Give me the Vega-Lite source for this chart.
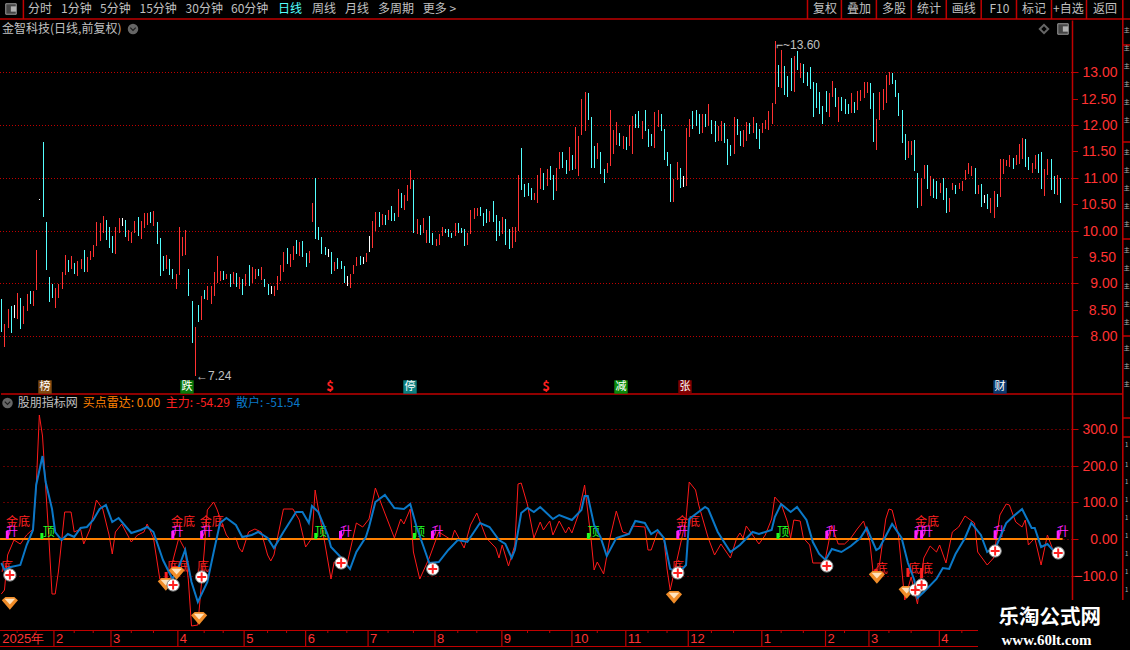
{
"$schema":"https://vega.github.io/schema/vega-lite/v6.json",
"background":"#000000","padding":{"left":-4,"top":-1,"right":0,"bottom":0},"autosize":{"type":"pad"},"bounds":"flush","spacing":0,
"resolve":{"scale":{"color":"independent","fill":"independent","stroke":"independent"}},
"config":{"view":{"stroke":null},"text":{"font":"Noto Sans CJK SC"}},
"datasets":{
"bars":[
{"i":0,"l":8.07,"h":8.7,"k":"c"},{"i":1,"l":7.8,"h":8.22,"k":"r"},{"i":2,"l":8.15,"h":8.51,"k":"r"},{"i":3,"l":8.05,"h":8.56,"k":"c"},{"i":4,"l":8.35,"h":8.58,"k":"w"},{"i":5,"l":8.32,"h":8.81,"k":"r"},{"i":6,"l":8.13,"h":8.73,"k":"c"},{"i":7,"l":8.22,"h":8.56,"k":"r"},{"i":8,"l":8.47,"h":8.79,"k":"r"},{"i":9,"l":8.6,"h":8.85,"k":"c"},
{"i":10,"l":8.56,"h":8.85,"k":"r"},{"i":11,"l":8.87,"h":9.63,"k":"r"},{"i":12,"l":10.58,"h":10.59,"k":"w"},{"i":13,"l":10.25,"h":11.68,"k":"c"},{"i":14,"l":9.25,"h":10.16,"k":"c"},{"i":15,"l":8.64,"h":9.11,"k":"c"},{"i":16,"l":8.72,"h":8.98,"k":"c"},{"i":17,"l":8.54,"h":8.91,"k":"r"},{"i":18,"l":8.73,"h":8.98,"k":"r"},{"i":19,"l":8.89,"h":9.21,"k":"r"},
{"i":20,"l":9.15,"h":9.53,"k":"r"},{"i":21,"l":9.21,"h":9.44,"k":"c"},{"i":22,"l":9.28,"h":9.51,"k":"r"},{"i":23,"l":9.17,"h":9.38,"k":"c"},{"i":24,"l":9.13,"h":9.42,"k":"r"},{"i":25,"l":9.27,"h":9.46,"k":"r"},{"i":26,"l":9.21,"h":9.63,"k":"c"},{"i":27,"l":9.21,"h":9.49,"k":"r"},{"i":28,"l":9.44,"h":9.61,"k":"r"},{"i":29,"l":9.49,"h":9.72,"k":"r"},
{"i":30,"l":9.7,"h":10.16,"k":"r"},{"i":31,"l":9.8,"h":10.14,"k":"r"},{"i":32,"l":9.95,"h":10.27,"k":"r"},{"i":33,"l":9.82,"h":10.2,"k":"c"},{"i":34,"l":9.66,"h":10.06,"k":"c"},{"i":35,"l":9.57,"h":9.89,"k":"c"},{"i":36,"l":9.55,"h":10.06,"k":"r"},{"i":37,"l":9.95,"h":10.23,"k":"r"},{"i":38,"l":10.08,"h":10.23,"k":"w"},{"i":39,"l":9.87,"h":10.2,"k":"c"},
{"i":40,"l":9.8,"h":10.01,"k":"r"},{"i":41,"l":9.76,"h":9.97,"k":"r"},{"i":42,"l":9.95,"h":10.18,"k":"r"},{"i":43,"l":9.89,"h":10.25,"k":"c"},{"i":44,"l":9.84,"h":10.18,"k":"r"},{"i":45,"l":10.04,"h":10.33,"k":"r"},{"i":46,"l":10.1,"h":10.33,"k":"r"},{"i":47,"l":10.14,"h":10.35,"k":"c"},{"i":48,"l":10.08,"h":10.37,"k":"r"},{"i":49,"l":9.74,"h":10.16,"k":"c"},
{"i":50,"l":9.13,"h":9.85,"k":"c"},{"i":51,"l":9.23,"h":9.51,"k":"c"},{"i":52,"l":9.27,"h":9.53,"k":"r"},{"i":53,"l":9.15,"h":9.46,"k":"c"},{"i":54,"l":9.09,"h":9.28,"k":"c"},{"i":55,"l":8.89,"h":9.17,"k":"r"},{"i":56,"l":9.15,"h":10.06,"k":"r"},{"i":57,"l":9.51,"h":9.87,"k":"r"},{"i":58,"l":9.53,"h":10.01,"k":"r"},{"i":59,"l":8.75,"h":9.27,"k":"c"},
{"i":60,"l":7.86,"h":8.66,"k":"c"},{"i":61,"l":7.25,"h":8.18,"k":"r"},{"i":62,"l":8.26,"h":8.58,"k":"c"},{"i":63,"l":8.3,"h":8.75,"k":"r"},{"i":64,"l":8.7,"h":8.87,"k":"c"},{"i":65,"l":8.68,"h":8.94,"k":"r"},{"i":66,"l":8.6,"h":8.94,"k":"r"},{"i":67,"l":8.75,"h":9.21,"k":"r"},{"i":68,"l":9,"h":9.51,"k":"r"},{"i":69,"l":9.04,"h":9.23,"k":"r"},
{"i":70,"l":9.06,"h":9.23,"k":"c"},{"i":71,"l":9.08,"h":9.17,"k":"r"},{"i":72,"l":8.92,"h":9.17,"k":"c"},{"i":73,"l":8.98,"h":9.21,"k":"r"},{"i":74,"l":8.92,"h":9.19,"k":"c"},{"i":75,"l":8.89,"h":9.11,"k":"r"},{"i":76,"l":8.77,"h":9.08,"k":"c"},{"i":77,"l":8.94,"h":9.17,"k":"r"},{"i":78,"l":8.94,"h":9.34,"k":"c"},{"i":79,"l":9,"h":9.3,"k":"r"},
{"i":80,"l":9.09,"h":9.27,"k":"r"},{"i":81,"l":9.13,"h":9.28,"k":"c"},{"i":82,"l":9.06,"h":9.3,"k":"r"},{"i":83,"l":8.92,"h":9.09,"k":"c"},{"i":84,"l":8.77,"h":8.98,"k":"c"},{"i":85,"l":8.79,"h":8.94,"k":"w"},{"i":86,"l":8.75,"h":8.94,"k":"r"},{"i":87,"l":8.87,"h":9.13,"k":"r"},{"i":88,"l":9.04,"h":9.34,"k":"r"},{"i":89,"l":9.21,"h":9.59,"k":"r"},
{"i":90,"l":9.36,"h":9.66,"k":"c"},{"i":91,"l":9.3,"h":9.55,"k":"r"},{"i":92,"l":9.44,"h":9.7,"k":"r"},{"i":93,"l":9.55,"h":9.82,"k":"c"},{"i":94,"l":9.51,"h":9.78,"k":"r"},{"i":95,"l":9.49,"h":9.8,"k":"c"},{"i":96,"l":9.3,"h":9.57,"k":"c"},{"i":97,"l":9.38,"h":9.61,"k":"r"},{"i":98,"l":10.16,"h":10.52,"k":"r"},{"i":99,"l":9.84,"h":10.99,"k":"c"},
{"i":100,"l":9.82,"h":10.06,"k":"c"},{"i":101,"l":9.55,"h":9.87,"k":"c"},{"i":102,"l":9.53,"h":9.68,"k":"c"},{"i":103,"l":9.49,"h":9.65,"k":"w"},{"i":104,"l":9.17,"h":9.59,"k":"c"},{"i":105,"l":9.23,"h":9.4,"k":"r"},{"i":106,"l":9.28,"h":9.47,"k":"c"},{"i":107,"l":9.27,"h":9.42,"k":"c"},{"i":108,"l":9,"h":9.32,"k":"c"},{"i":109,"l":8.94,"h":9.13,"k":"w"},
{"i":110,"l":8.91,"h":9.17,"k":"r"},{"i":111,"l":9.17,"h":9.34,"k":"r"},{"i":112,"l":9.32,"h":9.49,"k":"r"},{"i":113,"l":9.34,"h":9.51,"k":"c"},{"i":114,"l":9.36,"h":9.49,"k":"w"},{"i":115,"l":9.4,"h":9.57,"k":"r"},{"i":116,"l":9.59,"h":9.89,"k":"w"},{"i":117,"l":9.66,"h":10.18,"k":"r"},{"i":118,"l":9.99,"h":10.35,"k":"r"},{"i":119,"l":10.06,"h":10.35,"k":"c"},
{"i":120,"l":10.1,"h":10.31,"k":"r"},{"i":121,"l":10.1,"h":10.29,"k":"c"},{"i":122,"l":10.2,"h":10.39,"k":"r"},{"i":123,"l":10.18,"h":10.46,"k":"c"},{"i":124,"l":10.18,"h":10.33,"k":"c"},{"i":125,"l":10.25,"h":10.78,"k":"r"},{"i":126,"l":10.42,"h":10.71,"k":"c"},{"i":127,"l":10.39,"h":10.67,"k":"r"},{"i":128,"l":10.56,"h":10.86,"k":"r"},{"i":129,"l":10.78,"h":11.15,"k":"r"},
{"i":130,"l":9.95,"h":10.96,"k":"c"},{"i":131,"l":9.93,"h":10.22,"k":"r"},{"i":132,"l":9.91,"h":10.1,"k":"c"},{"i":133,"l":9.95,"h":10.23,"k":"r"},{"i":134,"l":9.76,"h":10.01,"k":"r"},{"i":135,"l":9.76,"h":10.27,"k":"c"},{"i":136,"l":9.72,"h":9.95,"k":"c"},{"i":137,"l":9.7,"h":9.84,"k":"r"},{"i":138,"l":9.72,"h":9.93,"k":"r"},{"i":139,"l":9.89,"h":10.06,"k":"r"},
{"i":140,"l":9.95,"h":10.03,"k":"c"},{"i":141,"l":9.87,"h":10.03,"k":"c"},{"i":142,"l":9.85,"h":9.95,"k":"c"},{"i":143,"l":9.89,"h":10.14,"k":"r"},{"i":144,"l":9.95,"h":10.14,"k":"c"},{"i":145,"l":9.95,"h":10.04,"k":"c"},{"i":146,"l":9.7,"h":10.03,"k":"c"},{"i":147,"l":9.72,"h":9.95,"k":"r"},{"i":148,"l":9.93,"h":10.39,"k":"r"},{"i":149,"l":10.22,"h":10.42,"k":"r"},
{"i":150,"l":10.27,"h":10.42,"k":"r"},{"i":151,"l":10.27,"h":10.44,"k":"c"},{"i":152,"l":10.08,"h":10.33,"k":"c"},{"i":153,"l":10.14,"h":10.41,"k":"c"},{"i":154,"l":10.16,"h":10.37,"k":"r"},{"i":155,"l":10.16,"h":10.56,"k":"c"},{"i":156,"l":9.8,"h":10.29,"k":"c"},{"i":157,"l":9.89,"h":10.18,"k":"c"},{"i":158,"l":9.93,"h":10.25,"k":"r"},{"i":159,"l":9.72,"h":10.22,"k":"c"},
{"i":160,"l":9.65,"h":10.03,"k":"c"},{"i":161,"l":9.66,"h":10.06,"k":"r"},{"i":162,"l":9.78,"h":10.06,"k":"r"},{"i":163,"l":9.99,"h":11.05,"k":"r"},{"i":164,"l":10.77,"h":11.56,"k":"c"},{"i":165,"l":10.63,"h":10.88,"k":"c"},{"i":166,"l":10.65,"h":10.9,"k":"c"},{"i":167,"l":10.58,"h":10.8,"k":"c"},{"i":168,"l":10.58,"h":10.71,"k":"r"},{"i":169,"l":10.52,"h":11.05,"k":"r"},
{"i":170,"l":10.79,"h":11.18,"k":"r"},{"i":171,"l":10.76,"h":11.1,"k":"c"},{"i":172,"l":10.85,"h":11.16,"k":"r"},{"i":173,"l":10.95,"h":11.22,"k":"c"},{"i":174,"l":10.58,"h":11.06,"k":"c"},{"i":175,"l":10.74,"h":11.18,"k":"r"},{"i":176,"l":11.16,"h":11.49,"k":"r"},{"i":177,"l":11.18,"h":11.49,"k":"c"},{"i":178,"l":11.08,"h":11.33,"k":"c"},{"i":179,"l":11.12,"h":11.58,"k":"r"},
{"i":180,"l":11.14,"h":11.43,"k":"c"},{"i":181,"l":11.16,"h":11.97,"k":"r"},{"i":182,"l":11.04,"h":11.79,"k":"r"},{"i":183,"l":11.81,"h":12.49,"k":"r"},{"i":184,"l":11.89,"h":12.62,"k":"r"},{"i":185,"l":12.1,"h":12.6,"k":"c"},{"i":186,"l":11.18,"h":12.16,"k":"c"},{"i":187,"l":11.18,"h":11.6,"k":"c"},{"i":188,"l":11.35,"h":11.66,"k":"r"},{"i":189,"l":11.08,"h":11.49,"k":"c"},
{"i":190,"l":10.91,"h":11.16,"k":"c"},{"i":191,"l":11.1,"h":11.28,"k":"r"},{"i":192,"l":11.22,"h":12.29,"k":"r"},{"i":193,"l":11.45,"h":11.91,"k":"r"},{"i":194,"l":11.62,"h":12.06,"k":"r"},{"i":195,"l":11.6,"h":11.85,"k":"c"},{"i":196,"l":11.54,"h":11.79,"k":"r"},{"i":197,"l":11.53,"h":11.78,"k":"c"},{"i":198,"l":11.6,"h":12,"k":"r"},{"i":199,"l":11.45,"h":12.18,"k":"r"},
{"i":200,"l":11.95,"h":12.2,"k":"c"},{"i":201,"l":11.95,"h":12.26,"k":"c"},{"i":202,"l":11.74,"h":12.08,"k":"r"},{"i":203,"l":11.89,"h":12.28,"k":"c"},{"i":204,"l":11.58,"h":11.93,"k":"c"},{"i":205,"l":11.6,"h":11.83,"k":"c"},{"i":206,"l":11.56,"h":12.24,"k":"r"},{"i":207,"l":11.97,"h":12.29,"k":"r"},{"i":208,"l":11.89,"h":12.2,"k":"c"},{"i":209,"l":11.33,"h":11.93,"k":"c"},
{"i":210,"l":11.22,"h":11.49,"k":"c"},{"i":211,"l":10.54,"h":11.26,"k":"c"},{"i":212,"l":10.54,"h":10.98,"k":"r"},{"i":213,"l":10.95,"h":11.29,"k":"r"},{"i":214,"l":10.81,"h":11.18,"k":"c"},{"i":215,"l":10.83,"h":11.03,"k":"w"},{"i":216,"l":10.85,"h":11.95,"k":"r"},{"i":217,"l":11.78,"h":12.12,"k":"r"},{"i":218,"l":11.93,"h":12.26,"k":"c"},{"i":219,"l":11.99,"h":12.29,"k":"c"},
{"i":220,"l":11.83,"h":12.2,"k":"c"},{"i":221,"l":11.85,"h":12.2,"k":"r"},{"i":222,"l":11.97,"h":12.2,"k":"c"},{"i":223,"l":11.99,"h":12.39,"k":"r"},{"i":224,"l":11.83,"h":12.1,"k":"c"},{"i":225,"l":11.68,"h":12.08,"k":"c"},{"i":226,"l":11.7,"h":11.99,"k":"r"},{"i":227,"l":11.7,"h":12.08,"k":"r"},{"i":228,"l":11.66,"h":12.04,"k":"c"},{"i":229,"l":11.24,"h":11.74,"k":"c"},
{"i":230,"l":11.41,"h":11.62,"k":"c"},{"i":231,"l":11.45,"h":12.16,"k":"r"},{"i":232,"l":11.81,"h":12.12,"k":"c"},{"i":233,"l":11.6,"h":11.89,"k":"c"},{"i":234,"l":11.58,"h":11.91,"k":"r"},{"i":235,"l":11.7,"h":12.06,"k":"r"},{"i":236,"l":11.83,"h":12.04,"k":"c"},{"i":237,"l":11.85,"h":12.16,"k":"r"},{"i":238,"l":11.74,"h":12.03,"k":"c"},{"i":239,"l":11.54,"h":11.93,"k":"c"},
{"i":240,"l":11.85,"h":12.04,"k":"r"},{"i":241,"l":11.93,"h":12.1,"k":"r"},{"i":242,"l":11.91,"h":12.26,"k":"r"},{"i":243,"l":12.01,"h":12.41,"k":"r"},{"i":244,"l":12.39,"h":13.6,"k":"r"},{"i":245,"l":12.72,"h":13.14,"k":"c"},{"i":246,"l":12.7,"h":13.43,"k":"r"},{"i":247,"l":12.56,"h":13.12,"k":"c"},{"i":248,"l":12.54,"h":12.93,"k":"c"},{"i":249,"l":12.64,"h":13.28,"k":"c"},
{"i":250,"l":12.62,"h":13.31,"k":"r"},{"i":251,"l":13.04,"h":13.41,"k":"c"},{"i":252,"l":12.89,"h":13.18,"k":"r"},{"i":253,"l":12.79,"h":13.16,"k":"c"},{"i":254,"l":12.74,"h":13.01,"k":"c"},{"i":255,"l":12.68,"h":13.1,"k":"c"},{"i":256,"l":12.16,"h":12.81,"k":"c"},{"i":257,"l":12.33,"h":12.79,"k":"c"},{"i":258,"l":12.2,"h":12.62,"k":"c"},{"i":259,"l":12.01,"h":12.37,"k":"c"},
{"i":260,"l":12.24,"h":12.64,"k":"c"},{"i":261,"l":12.16,"h":12.6,"k":"r"},{"i":262,"l":12.53,"h":12.83,"k":"r"},{"i":263,"l":12.35,"h":12.7,"k":"c"},{"i":264,"l":12.06,"h":12.53,"k":"r"},{"i":265,"l":12.26,"h":12.53,"k":"c"},{"i":266,"l":12.2,"h":12.49,"k":"c"},{"i":267,"l":12.2,"h":12.39,"k":"c"},{"i":268,"l":12.22,"h":12.6,"k":"r"},{"i":269,"l":12.22,"h":12.43,"k":"c"},
{"i":270,"l":12.29,"h":12.64,"k":"r"},{"i":271,"l":12.45,"h":12.66,"k":"r"},{"i":272,"l":12.51,"h":12.81,"k":"r"},{"i":273,"l":12.6,"h":12.81,"k":"r"},{"i":274,"l":12.31,"h":12.79,"k":"c"},{"i":275,"l":11.68,"h":12.6,"k":"c"},{"i":276,"l":11.53,"h":12.12,"k":"r"},{"i":277,"l":12.1,"h":12.62,"k":"r"},{"i":278,"l":12.29,"h":12.68,"k":"r"},{"i":279,"l":12.41,"h":12.95,"k":"r"},
{"i":280,"l":12.76,"h":13,"k":"r"},{"i":281,"l":12.78,"h":12.99,"k":"c"},{"i":282,"l":12.53,"h":12.85,"k":"c"},{"i":283,"l":12.18,"h":12.6,"k":"c"},{"i":284,"l":11.66,"h":12.29,"k":"c"},{"i":285,"l":11.33,"h":11.83,"k":"c"},{"i":286,"l":11.37,"h":11.7,"k":"r"},{"i":287,"l":11.43,"h":11.7,"k":"r"},{"i":288,"l":11.12,"h":11.72,"k":"c"},{"i":289,"l":10.42,"h":11.1,"k":"c"},
{"i":290,"l":10.46,"h":11,"k":"r"},{"i":291,"l":10.97,"h":11.24,"k":"r"},{"i":292,"l":10.78,"h":11.24,"k":"c"},{"i":293,"l":10.65,"h":11.03,"k":"r"},{"i":294,"l":10.61,"h":10.97,"k":"c"},{"i":295,"l":10.59,"h":10.93,"k":"c"},{"i":296,"l":10.72,"h":10.91,"k":"r"},{"i":297,"l":10.57,"h":10.99,"k":"c"},{"i":298,"l":10.33,"h":10.8,"k":"c"},{"i":299,"l":10.36,"h":10.61,"k":"r"},
{"i":300,"l":10.76,"h":10.91,"k":"r"},{"i":301,"l":10.69,"h":10.86,"k":"c"},{"i":302,"l":10.78,"h":10.91,"k":"r"},{"i":303,"l":10.74,"h":10.93,"k":"r"},{"i":304,"l":10.95,"h":11.14,"k":"r"},{"i":305,"l":11.08,"h":11.28,"k":"r"},{"i":306,"l":11.03,"h":11.22,"k":"r"},{"i":307,"l":10.7,"h":11.18,"k":"c"},{"i":308,"l":10.7,"h":10.87,"k":"r"},{"i":309,"l":10.44,"h":10.89,"k":"c"},
{"i":310,"l":10.53,"h":10.67,"k":"w"},{"i":311,"l":10.4,"h":10.7,"k":"c"},{"i":312,"l":10.33,"h":10.61,"k":"r"},{"i":313,"l":10.23,"h":10.74,"k":"r"},{"i":314,"l":10.44,"h":10.7,"k":"c"},{"i":315,"l":10.63,"h":11.35,"k":"r"},{"i":316,"l":11.08,"h":11.35,"k":"r"},{"i":317,"l":11.22,"h":11.33,"k":"r"},{"i":318,"l":11.2,"h":11.43,"k":"r"},{"i":319,"l":11.16,"h":11.37,"k":"c"},
{"i":320,"l":11.25,"h":11.43,"k":"r"},{"i":321,"l":11.27,"h":11.64,"k":"r"},{"i":322,"l":11.35,"h":11.76,"k":"r"},{"i":323,"l":11.2,"h":11.74,"k":"c"},{"i":324,"l":11.14,"h":11.39,"k":"c"},{"i":325,"l":11.1,"h":11.28,"k":"r"},{"i":326,"l":11.16,"h":11.43,"k":"r"},{"i":327,"l":11.1,"h":11.45,"k":"c"},{"i":328,"l":10.78,"h":11.49,"k":"c"},{"i":329,"l":10.65,"h":11.16,"k":"r"},
{"i":330,"l":11.06,"h":11.35,"k":"r"},{"i":331,"l":10.76,"h":11.35,"k":"c"},{"i":332,"l":10.7,"h":11.03,"k":"c"},{"i":333,"l":10.68,"h":11.06,"k":"r"},{"i":334,"l":10.53,"h":11,"k":"c"}
],
"main":[
{"i":0,"v":-148},{"i":1,"v":-138},{"i":2,"v":-43},{"i":4,"v":-3},{"i":6,"v":-14},{"i":8,"v":11},{"i":10,"v":29},{"i":11,"v":138},{"i":12,"v":337},{"i":13,"v":282},{"i":15,"v":2},{"i":16,"v":-148},{"i":17,"v":-148},{"i":18,"v":-89},{"i":20,"v":74},{"i":22,"v":74},{"i":23,"v":20},{"i":25,"v":29},{"i":26,"v":-14},{"i":28,"v":29},{"i":30,"v":106},{"i":32,"v":83},{"i":34,"v":11},{"i":35,"v":-39},{"i":36,"v":20},{"i":38,"v":40},{"i":41,"v":-7},{"i":43,"v":11},{"i":45,"v":20},{"i":46,"v":40},{"i":48,"v":2},{"i":50,"v":-109},{"i":52,"v":-109},{"i":53,"v":-125},{"i":54,"v":-62},{"i":56,"v":2},{"i":58,"v":-30},{"i":59,"v":-111},{"i":60,"v":-235},{"i":62,"v":-233},{"i":64,"v":-34},{"i":65,"v":79},{"i":67,"v":100},{"i":68,"v":83},{"i":71,"v":11},{"i":72,"v":0},{"i":74,"v":2},{"i":75,"v":-25},{"i":76,"v":-34},{"i":78,"v":20},{"i":80,"v":29},{"i":82,"v":20},{"i":84,"v":-43},{"i":85,"v":-59},{"i":86,"v":-43},{"i":89,"v":81},{"i":92,"v":83},{"i":94,"v":52},{"i":96,"v":-21},{"i":98,"v":2},{"i":99,"v":133},{"i":100,"v":83},{"i":102,"v":-7},{"i":104,"v":-109},{"i":105,"v":-62},{"i":109,"v":-71},{"i":112,"v":43},{"i":114,"v":33},{"i":116,"v":56},{"i":118,"v":138},{"i":120,"v":92},{"i":124,"v":2},{"i":126,"v":56},{"i":127,"v":40},{"i":129,"v":83},{"i":130,"v":-34},{"i":132,"v":-109},{"i":135,"v":-52},{"i":138,"v":20},{"i":142,"v":-3},{"i":143,"v":24},{"i":146,"v":-25},{"i":148,"v":38},{"i":150,"v":70},{"i":153,"v":2},{"i":156,"v":-25},{"i":157,"v":-52},{"i":158,"v":-16},{"i":160,"v":-72},{"i":162,"v":-16},{"i":163,"v":151},{"i":164,"v":154},{"i":166,"v":92},{"i":168,"v":2},{"i":170,"v":47},{"i":171,"v":24},{"i":173,"v":49},{"i":174,"v":11},{"i":176,"v":49},{"i":178,"v":18},{"i":179,"v":33},{"i":180,"v":18},{"i":182,"v":65},{"i":184,"v":147},{"i":186,"v":2},{"i":187,"v":-84},{"i":188,"v":-62},{"i":190,"v":-95},{"i":192,"v":2},{"i":194,"v":77},{"i":196,"v":20},{"i":198,"v":15},{"i":199,"v":36},{"i":203,"v":33},{"i":204,"v":-30},{"i":205,"v":-30},{"i":207,"v":20},{"i":209,"v":2},{"i":210,"v":-80},{"i":211,"v":-138},{"i":213,"v":-62},{"i":216,"v":56},{"i":217,"v":157},{"i":219,"v":133},{"i":220,"v":92},{"i":223,"v":2},{"i":225,"v":-43},{"i":227,"v":-14},{"i":230,"v":-52},{"i":232,"v":2},{"i":233,"v":18},{"i":234,"v":2},{"i":235,"v":36},{"i":239,"v":-12},{"i":241,"v":11},{"i":243,"v":56},{"i":244,"v":115},{"i":246,"v":97},{"i":248,"v":47},{"i":249,"v":2},{"i":250,"v":52},{"i":252,"v":49},{"i":253,"v":2},{"i":255,"v":-16},{"i":256,"v":-66},{"i":259,"v":-66},{"i":260,"v":-52},{"i":262,"v":36},{"i":264,"v":-12},{"i":266,"v":-14},{"i":268,"v":2},{"i":270,"v":29},{"i":272,"v":49},{"i":274,"v":-7},{"i":275,"v":-89},{"i":277,"v":-71},{"i":279,"v":56},{"i":280,"v":83},{"i":281,"v":79},{"i":283,"v":11},{"i":285,"v":-166},{"i":287,"v":-102},{"i":289,"v":-175},{"i":291,"v":-52},{"i":292,"v":-34},{"i":293,"v":-18},{"i":295,"v":-34},{"i":296,"v":-16},{"i":298,"v":-66},{"i":300,"v":20},{"i":302,"v":33},{"i":304,"v":63},{"i":307,"v":43},{"i":308,"v":-34},{"i":311,"v":-69},{"i":313,"v":-52},{"i":315,"v":65},{"i":317,"v":95},{"i":318,"v":92},{"i":320,"v":47},{"i":322,"v":33},{"i":323,"v":52},{"i":324,"v":-16},{"i":326,"v":2},{"i":328,"v":-71},{"i":330,"v":11},{"i":332,"v":-34},{"i":334,"v":-54}
],
"retail":[
{"i":0,"v":-66},{"i":1,"v":-84},{"i":3,"v":-75},{"i":6,"v":-71},{"i":8,"v":-16},{"i":10,"v":24},{"i":11,"v":147},{"i":13,"v":226},{"i":14,"v":156},{"i":16,"v":83},{"i":17,"v":20},{"i":19,"v":-3},{"i":21,"v":13},{"i":23,"v":6},{"i":25,"v":31},{"i":27,"v":33},{"i":29,"v":52},{"i":31,"v":83},{"i":33,"v":94},{"i":35,"v":47},{"i":37,"v":58},{"i":41,"v":18},{"i":44,"v":26},{"i":46,"v":33},{"i":48,"v":20},{"i":51,"v":-57},{"i":54,"v":-107},{"i":56,"v":-75},{"i":58,"v":-30},{"i":60,"v":-116},{"i":62,"v":-172},{"i":65,"v":-116},{"i":67,"v":-34},{"i":69,"v":43},{"i":71,"v":58},{"i":74,"v":38},{"i":76,"v":7},{"i":79,"v":11},{"i":81,"v":20},{"i":84,"v":2},{"i":86,"v":-25},{"i":89,"v":20},{"i":93,"v":74},{"i":95,"v":74},{"i":97,"v":45},{"i":98,"v":90},{"i":100,"v":74},{"i":103,"v":11},{"i":104,"v":-21},{"i":107,"v":-48},{"i":110,"v":-80},{"i":112,"v":-34},{"i":115,"v":6},{"i":116,"v":33},{"i":118,"v":101},{"i":121,"v":119},{"i":124,"v":86},{"i":127,"v":83},{"i":129,"v":97},{"i":131,"v":33},{"i":133,"v":-16},{"i":135,"v":-66},{"i":138,"v":-62},{"i":141,"v":-30},{"i":144,"v":-1},{"i":147,"v":-7},{"i":151,"v":43},{"i":154,"v":33},{"i":157,"v":-3},{"i":159,"v":-12},{"i":161,"v":-51},{"i":162,"v":-30},{"i":164,"v":70},{"i":166,"v":86},{"i":168,"v":74},{"i":170,"v":88},{"i":174,"v":54},{"i":176,"v":65},{"i":180,"v":52},{"i":183,"v":79},{"i":184,"v":118},{"i":185,"v":118},{"i":187,"v":38},{"i":189,"v":6},{"i":191,"v":-46},{"i":194,"v":2},{"i":198,"v":15},{"i":200,"v":49},{"i":203,"v":45},{"i":205,"v":15},{"i":207,"v":24},{"i":209,"v":2},{"i":211,"v":-80},{"i":214,"v":-89},{"i":216,"v":-71},{"i":217,"v":56},{"i":222,"v":88},{"i":223,"v":83},{"i":226,"v":20},{"i":230,"v":-34},{"i":233,"v":-16},{"i":237,"v":20},{"i":239,"v":13},{"i":243,"v":24},{"i":244,"v":61},{"i":246,"v":95},{"i":249,"v":74},{"i":251,"v":88},{"i":254,"v":52},{"i":256,"v":-7},{"i":258,"v":-39},{"i":260,"v":-57},{"i":262,"v":-27},{"i":265,"v":-34},{"i":268,"v":-18},{"i":271,"v":2},{"i":273,"v":31},{"i":276,"v":-30},{"i":277,"v":-25},{"i":281,"v":40},{"i":284,"v":2},{"i":286,"v":-66},{"i":288,"v":-111},{"i":289,"v":-161},{"i":291,"v":-143},{"i":295,"v":-107},{"i":297,"v":-78},{"i":299,"v":-80},{"i":301,"v":-39},{"i":304,"v":2},{"i":306,"v":43},{"i":309,"v":11},{"i":311,"v":-34},{"i":314,"v":-16},{"i":317,"v":43},{"i":319,"v":61},{"i":322,"v":81},{"i":325,"v":31},{"i":326,"v":31},{"i":328,"v":-21},{"i":330,"v":-14},{"i":334,"v":-52}
],
"radar":[{"i":-0.4,"v":0},{"i":334.8,"v":0}],
"levels":[{"p":8},{"p":9},{"p":10},{"p":11},{"p":12},{"p":13}],
"halves":[{"p":8.5,"a":337.75,"b":339.6,"lx":351.5,"t":"8.50"},{"p":9.5,"a":337.75,"b":339.6,"lx":351.5,"t":"9.50"},{"p":10.5,"a":337.75,"b":339.6,"lx":351.5,"t":"10.50"},{"p":11.5,"a":337.75,"b":339.6,"lx":351.5,"t":"11.50"},{"p":12.5,"a":337.75,"b":339.6,"lx":351.5,"t":"12.50"}],
"flags":[
{"i":1.9,"a":0,"b":22,"f":"升"},{"i":54.1,"a":0,"b":22,"f":"升"},{"i":63.2,"a":0,"b":22,"f":"升"},{"i":107,"a":0,"b":22,"f":"升"},{"i":136,"a":0,"b":22,"f":"升"},{"i":213.4,"a":0,"b":22,"f":"升"},{"i":260.4,"a":0,"b":22,"f":"升"},{"i":288.5,"a":0,"b":22,"f":"升"},{"i":290.3,"a":0,"b":22,"f":"升"},{"i":313.5,"a":0,"b":22,"f":"升"},{"i":333.4,"a":0,"b":22,"f":"升"},
{"i":12.8,"a":0,"b":18,"f":"顶"},{"i":99.2,"a":0,"b":18,"f":"顶"},{"i":130.3,"a":0,"b":18,"f":"顶"},{"i":185.2,"a":0,"b":18,"f":"顶"},{"i":245,"a":0,"b":18,"f":"顶"},
{"i":52,"a":-105,"b":-89,"f":"底"},{"i":275.9,"a":-93,"b":-80,"f":"底"},{"i":286,"a":-102,"b":-78,"f":"底"},{"i":290.3,"a":-105,"b":-78,"f":"底"}
],
"signs":[
{"i":5.3,"v":47,"t":"金底"},{"i":57.3,"v":47,"t":"金底"},{"i":66.4,"v":47,"t":"金底"},{"i":216.6,"v":47,"t":"金底"},{"i":292,"v":47,"t":"金底"},
{"i":3.4,"v":20,"t":"升"},{"i":55.6,"v":20,"t":"升"},{"i":64.8,"v":20,"t":"升"},{"i":108.7,"v":20,"t":"升"},{"i":137.6,"v":20,"t":"升"},{"i":214.9,"v":20,"t":"升"},{"i":262,"v":20,"t":"升"},{"i":289.8,"v":20,"t":"升"},{"i":292,"v":20,"t":"升"},{"i":314.8,"v":20,"t":"升"},{"i":334.8,"v":20,"t":"升"},
{"i":15,"v":20,"t":"顶"},{"i":100.8,"v":20,"t":"顶"},{"i":131.8,"v":20,"t":"顶"},{"i":186.8,"v":20,"t":"顶"},{"i":246.6,"v":20,"t":"顶"},
{"i":1.8,"v":-75,"t":"底"},{"i":54.2,"v":-75,"t":"底"},{"i":57.3,"v":-75,"t":"底"},{"i":63.6,"v":-75,"t":"底"},{"i":213.5,"v":-75,"t":"底"},{"i":277.7,"v":-80,"t":"底"},{"i":288,"v":-80,"t":"底"},{"i":292,"v":-80,"t":"底"}
],
"buys":[{"i":2.7,"v":-98},{"i":54.2,"v":-125},{"i":63.2,"v":-103},{"i":107.2,"v":-64},{"i":136.1,"v":-81},{"i":213.4,"v":-92},{"i":260.4,"v":-73},{"i":288.3,"v":-138},{"i":290.3,"v":-125},{"i":313.5,"v":-32},{"i":333.4,"v":-37}],
"gems":[{"i":2.7,"v":-174},{"i":51.9,"v":-123},{"i":55.3,"v":-93},{"i":62.4,"v":-214},{"i":212.2,"v":-156},{"i":276.2,"v":-104},{"i":285.6,"v":-143}],
"tags":[{"i":13.7,"p":7.04,"t":"榜","tag":"榜"},{"i":58.7,"p":7.04,"t":"跌","tag":"跌"},{"i":103.6,"p":7.04,"t":"$","tag":"$"},{"i":128.8,"p":7.04,"t":"停","tag":"停"},{"i":171.8,"p":7.04,"t":"$","tag":"$"},{"i":195.4,"p":7.04,"t":"减","tag":"减"},{"i":215.8,"p":7.04,"t":"张","tag":"张"},{"i":315,"p":7.04,"t":"财","tag":"财"}],
"extremes":[{"i":244,"p":13.52,"t":"⌐~13.60"},{"i":61,"p":7.24,"t":"←7.24"}],
"chrome":[
{"x":28,"y":9,"t":"分时","c":"menu"},{"x":61,"y":9,"t":"1分钟","c":"menu"},{"x":100,"y":9,"t":"5分钟","c":"menu"},{"x":139.5,"y":9,"t":"15分钟","c":"menu"},{"x":185.6,"y":9,"t":"30分钟","c":"menu"},{"x":231,"y":9,"t":"60分钟","c":"menu"},{"x":278,"y":9,"t":"日线","c":"active"},{"x":312,"y":9,"t":"周线","c":"menu"},{"x":345,"y":9,"t":"月线","c":"menu"},{"x":378,"y":9,"t":"多周期","c":"menu"},{"x":422.7,"y":9,"t":"更多 >","c":"menu"},
{"x":813,"y":9,"t":"复权","c":"menu"},{"x":847,"y":9,"t":"叠加","c":"menu"},{"x":882,"y":9,"t":"多股","c":"menu"},{"x":917,"y":9,"t":"统计","c":"menu"},{"x":951.7,"y":9,"t":"画线","c":"menu"},{"x":989.5,"y":9,"t":"F10","c":"menu"},{"x":1022,"y":9,"t":"标记","c":"menu"},{"x":1053,"y":9,"t":"+自选","c":"menu"},{"x":1093,"y":9,"t":"返回","c":"menu"},
{"x":2,"y":29,"t":"金智科技(日线,前复权)","c":"menu"},
{"x":17.7,"y":403,"t":"股朋指标网","c":"menu"},{"x":82.7,"y":403,"t":"买点雷达: 0.00","c":"radar"},{"x":165.7,"y":403,"t":"主力: -54.29","c":"main"},{"x":236,"y":403,"t":"散户: -51.54","c":"retail"}
],
"side":[{"x":1123.8,"y":30,"t":"主"},{"x":1123.8,"y":48,"t":"主"},{"x":1123.8,"y":66,"t":"主"},{"x":1123.8,"y":84,"t":"主"},{"x":1123.8,"y":102,"t":"主"},{"x":1123.8,"y":120,"t":"主"},{"x":1123.8,"y":152,"t":"主"},{"x":1123.8,"y":170,"t":"主"},{"x":1123.8,"y":188,"t":"主"},{"x":1123.8,"y":206,"t":"主"},{"x":1123.8,"y":224,"t":"主"},{"x":1123.8,"y":250,"t":"主"},{"x":1123.8,"y":268,"t":"主"},{"x":1123.8,"y":286,"t":"主"},{"x":1123.8,"y":304,"t":"主"},{"x":1123.8,"y":322,"t":"主"},{"x":1123.8,"y":348,"t":"主"},{"x":1123.8,"y":366,"t":"主"},{"x":1123.8,"y":384,"t":"主"},{"x":1125,"y":445,"t":"1"},{"x":1125,"y":465,"t":"1"},{"x":1125,"y":482,"t":"1"},{"x":1125,"y":500,"t":"1"},{"x":1125,"y":518,"t":"1"},{"x":1125,"y":536,"t":"1"},{"x":1125,"y":554,"t":"1"},{"x":1125,"y":572,"t":"1"},{"x":1125,"y":590,"t":"1"}],
"frame":[
{"x":0,"x2":1134,"y":19,"y2":19},{"x":1,"x2":1122.8,"y":394,"y2":394},{"x":23.4,"x2":23.4,"y":0,"y2":19},
{"x":807.5,"x2":807.5,"y":0,"y2":19},{"x":841.4,"x2":841.4,"y":0,"y2":19},{"x":876.4,"x2":876.4,"y":0,"y2":19},{"x":911.3,"x2":911.3,"y":0,"y2":19},{"x":946.3,"x2":946.3,"y":0,"y2":19},{"x":981.2,"x2":981.2,"y":0,"y2":19},{"x":1016.5,"x2":1016.5,"y":0,"y2":19},{"x":1051.5,"x2":1051.5,"y":0,"y2":19},{"x":1086.5,"x2":1086.5,"y":0,"y2":19},
{"x":1122.8,"x2":1122.8,"y":0,"y2":650},{"x":1123,"x2":1130,"y":45,"y2":45},{"x":1123,"x2":1130,"y":142,"y2":142},{"x":1123,"x2":1130,"y":239,"y2":239},{"x":1123,"x2":1130,"y":336,"y2":336},{"x":1123,"x2":1130,"y":418,"y2":418},{"x":1123,"x2":1130,"y":437,"y2":437}
],
"knobs":[{"x":133,"y":29},{"x":7.5,"y":403}],
"months":[{"i":-0.3,"t":"2025年","m":0},{"i":16.6,"t":"2","m":1},{"i":34.6,"t":"3","m":1},{"i":55.7,"t":"4","m":1},{"i":76.6,"t":"5","m":1},{"i":96,"t":"6","m":1},{"i":115.7,"t":"7","m":1},{"i":136.8,"t":"8","m":1},{"i":157.9,"t":"9","m":1},{"i":180,"t":"10","m":1},{"i":197,"t":"11","m":1},{"i":216.7,"t":"12","m":1},{"i":239.9,"t":"1","m":1},{"i":260,"t":"2","m":1},{"i":273.7,"t":"3","m":1},{"i":295.9,"t":"4","m":1}],
"weeks":[{"i":5},{"i":11},{"i":23},{"i":29},{"i":41},{"i":48},{"i":64},{"i":70},{"i":84},{"i":90},{"i":103},{"i":109},{"i":122},{"i":130},{"i":144},{"i":150},{"i":166},{"i":173},{"i":188},{"i":204},{"i":210},{"i":224},{"i":231},{"i":246},{"i":253},{"i":266},{"i":280},{"i":287},{"i":303}]
},
"vconcat":[
{"width":1130,"height":20,"layer":[
{"data":{"name":"frame"},"mark":{"type":"rule","color":"#c00000","strokeWidth":1.5},"encoding":{"x":{"field":"x","type":"quantitative","axis":null,"scale":{"domain":[0,1130],"range":[0,1130],"nice":false,"zero":false}},"x2":{"field":"x2"},"y":{"field":"y","type":"quantitative","axis":null,"scale":{"domain":[0,20],"range":[0,20],"nice":false,"zero":false}},"y2":{"field":"y2"}}},
{"data":{"name":"chrome"},"mark":{"type":"text","align":"left","baseline":"middle","fontSize":12,"font":"Noto Sans CJK SC"},"encoding":{"x":{"field":"x","type":"quantitative","axis":null},"y":{"field":"y","type":"quantitative","axis":null},"text":{"field":"t"},"color":{"field":"c","type":"nominal","legend":null,"scale":{"domain":["menu","active","radar","main","retail"],"range":["#c0c0c0","#54ffff","#ff8000","#ff2020","#0a78c8"]}}}},
{"data":{"name":"side"},"mark":{"type":"text","align":"left","baseline":"middle","fontSize":6,"color":"#b0b0b0"},"encoding":{"x":{"field":"x","type":"quantitative","axis":null},"y":{"field":"y","type":"quantitative","axis":null},"text":{"field":"t"}}},
{"data":{"name":"knobs"},"mark":{"type":"point","shape":"circle","filled":true,"size":110,"color":"#666666","opacity":1},"encoding":{"x":{"field":"x","type":"quantitative","axis":null},"y":{"field":"y","type":"quantitative","axis":null}}},
{"data":{"name":"knobs"},"mark":{"type":"point","filled":false,"size":30,"color":"#1c1c1c","strokeWidth":1.2,"opacity":1,"shape":"M-1,-0.5L0,0.5L1,-0.5"},"encoding":{"x":{"field":"x","type":"quantitative","axis":null},"y":{"field":"y","type":"quantitative","axis":null}}},
{"data":{"values":[{"x":1044,"y":29}]},"mark":{"type":"point","shape":"diamond","filled":false,"size":70,"color":"#666666","opacity":1},"encoding":{"x":{"field":"x","type":"quantitative","axis":null},"y":{"field":"y","type":"quantitative","axis":null}}},
{"data":{"values":[{"x":11,"y":9},{"x":1063,"y":29}]},"mark":{"type":"point","shape":"square","filled":true,"size":110,"color":"#444444","stroke":"#9a9a9a","strokeWidth":1,"opacity":1},"encoding":{"x":{"field":"x","type":"quantitative","axis":null},"y":{"field":"y","type":"quantitative","axis":null}}},
{"data":{"values":[{"x":13.5,"y":9},{"x":1065.5,"y":29}]},"mark":{"type":"point","shape":"square","filled":true,"size":28,"color":"#b0b0b0","opacity":1},"encoding":{"x":{"field":"x","type":"quantitative","axis":null},"y":{"field":"y","type":"quantitative","axis":null}}}
]},
{"width":1072,"height":375,"layer":[
{"data":{"name":"levels"},"mark":{"type":"rule","color":"#c00000","strokeWidth":1,"strokeDash":[1,2],"yOffset":0.5},"encoding":{
"y":{"field":"p","type":"quantitative","title":null,"scale":{"domain":[6.882,13.991],"zero":false,"nice":false,"round":true},"axis":{"orient":"right","values":[8,9,10,11,12,13],"format":".2f","labelFont":"Liberation Sans","labelFontSize":14,"labelColor":"#ff3232","labelAlign":"right","labelPadding":39,"labelOverlap":false,"labelFlush":false,"tickColor":"#c00000","tickSize":6,"domainColor":"#c00000","domainWidth":1.5,"grid":false}}}},
{"data":{"name":"bars"},"mark":{"type":"rule","strokeWidth":1,"xOffset":0.5},"encoding":{
"x":{"field":"i","type":"quantitative","axis":null,"scale":{"domain":[-0.41,337.75],"round":true,"nice":false,"zero":false}},
"y":{"field":"l","type":"quantitative","title":null},
"y2":{"field":"h"},
"color":{"field":"k","type":"nominal","legend":null,"scale":{"domain":["r","c","w"],"range":["#ff3232","#54ffff","#ffffff"]}}}},
{"data":{"name":"halves"},"mark":{"type":"rule","color":"#c00000","strokeWidth":1,"yOffset":0.5},"encoding":{"x":{"field":"a","type":"quantitative","axis":null},"x2":{"field":"b"},"y":{"field":"p","type":"quantitative","title":null}}},
{"data":{"name":"halves"},"mark":{"type":"text","align":"right","baseline":"middle","fontSize":14,"font":"Liberation Sans","color":"#ff3232","yOffset":0.5},"encoding":{"x":{"field":"lx","type":"quantitative","axis":null},"y":{"field":"p","type":"quantitative","title":null},"text":{"field":"t"}}},
{"data":{"name":"tags"},"transform":[{"filter":"datum.tag !== '$'"}],"mark":{"type":"point","shape":"square","filled":true,"size":180,"opacity":1},"encoding":{"x":{"field":"i","type":"quantitative","axis":null},"y":{"field":"p","type":"quantitative","title":null},"fill":{"field":"tag","type":"nominal","legend":null,"scale":{"domain":["榜","跌","停","减","张","财"],"range":["#804a10","#0a7a0a","#0a8080","#0a8a0a","#800000","#0a3a70"]}}}},
{"data":{"name":"tags"},"transform":[{"filter":"datum.tag !== '$'"}],"mark":{"type":"text","fontSize":11,"font":"Noto Sans CJK SC","color":"#ffffff"},"encoding":{"x":{"field":"i","type":"quantitative","axis":null},"y":{"field":"p","type":"quantitative","title":null},"text":{"field":"t"}}},
{"data":{"name":"tags"},"transform":[{"filter":"datum.tag === '$'"}],"mark":{"type":"text","fontSize":13,"font":"Noto Sans CJK SC","fontWeight":"bold","color":"#ff2020"},"encoding":{"x":{"field":"i","type":"quantitative","axis":null},"y":{"field":"p","type":"quantitative","title":null},"text":{"field":"t"}}},
{"data":{"name":"extremes"},"mark":{"type":"text","align":"left","baseline":"middle","fontSize":12,"font":"Liberation Sans","color":"#c0c0c0","dx":1},"encoding":{"x":{"field":"i","type":"quantitative","axis":null},"y":{"field":"p","type":"quantitative","title":null},"text":{"field":"t"}}}
]},
{"width":1072,"height":235,"layer":[
{"data":{"name":"main"},"mark":{"type":"line","color":"#ff1a1a","strokeWidth":1,"interpolate":"linear"},"encoding":{
"x":{"field":"i","type":"quantitative","axis":null,"scale":{"domain":[-0.41,337.75],"nice":false,"zero":false}},
"y":{"field":"v","type":"quantitative","title":null,"scale":{"domain":[-247.1,392.4],"zero":false,"nice":false,"round":true},"axis":{"orient":"right","values":[-100,0,100,200,300],"labelExpr":"datum.value === 0 ? '0.00' : format(datum.value, '.1f')","labelFont":"Liberation Sans","labelFontSize":14,"labelColor":"#ff3232","labelAlign":"right","labelPadding":39,"labelOverlap":false,"labelFlush":false,"tickColor":"#c00000","tickSize":6,"domainColor":"#c00000","domainWidth":1.5,"grid":true,"gridColor":"#c00000","gridDash":[1,3],"gridWidth":1}}}},
{"data":{"name":"radar"},"mark":{"type":"line","color":"#ff8000","strokeWidth":2},"encoding":{"x":{"field":"i","type":"quantitative","axis":null},"y":{"field":"v","type":"quantitative","title":null}}},
{"data":{"name":"flags"},"mark":{"type":"rule","strokeWidth":3},"encoding":{"x":{"field":"i","type":"quantitative","axis":null},"y":{"field":"a","type":"quantitative","title":null},"y2":{"field":"b"},"stroke":{"field":"f","type":"nominal","legend":null,"scale":{"domain":["升","顶","底"],"range":["#ff20ff","#20ff20","#ff2020"]}}}},
{"data":{"name":"signs"},"mark":{"type":"text","fontSize":12,"font":"Noto Sans CJK SC"},"encoding":{"x":{"field":"i","type":"quantitative","axis":null},"y":{"field":"v","type":"quantitative","title":null},"text":{"field":"t"},"fill":{"field":"t","type":"nominal","legend":null,"scale":{"domain":["金底","升","顶","底"],"range":["#ff2020","#ff20ff","#20ff20","#ff2020"]}}}},
{"data":{"name":"retail"},"mark":{"type":"line","color":"#0a78c8","strokeWidth":2},"encoding":{"x":{"field":"i","type":"quantitative","axis":null},"y":{"field":"v","type":"quantitative","title":null}}},
{"data":{"name":"gems"},"mark":{"type":"point","filled":true,"size":260,"color":"#f08c28","opacity":1,"shape":"M-1,-0.35L-0.55,-0.75L0.55,-0.75L1,-0.35L0,0.85Z"},"encoding":{"x":{"field":"i","type":"quantitative","axis":null},"y":{"field":"v","type":"quantitative","title":null}}},
{"data":{"name":"gems"},"mark":{"type":"point","filled":true,"size":110,"color":"#ffe2bc","opacity":1,"shape":"M-1,-0.8L1,-0.8L0,0.3Z"},"encoding":{"x":{"field":"i","type":"quantitative","axis":null},"y":{"field":"v","type":"quantitative","title":null}}},
{"data":{"name":"buys"},"mark":{"type":"point","shape":"circle","filled":true,"size":150,"fill":"#ffffff","stroke":"#8a8a8a","strokeWidth":1,"opacity":1},"encoding":{"x":{"field":"i","type":"quantitative","axis":null},"y":{"field":"v","type":"quantitative","title":null}}},
{"data":{"name":"buys"},"mark":{"type":"point","filled":true,"size":80,"color":"#ff2020","opacity":1,"shape":"M-1,-0.22H-0.22V-1H0.22V-0.22H1V0.22H0.22V1H-0.22V0.22H-1Z"},"encoding":{"x":{"field":"i","type":"quantitative","axis":null},"y":{"field":"v","type":"quantitative","title":null}}}
]},
{"width":1072,"height":20,"layer":[
{"data":{"values":[{"a":-0.4,"b":308.1,"y":0.5},{"a":-0.4,"b":308.1,"y":16.5}]},"mark":{"type":"rule","color":"#c00000","strokeWidth":1.2},"encoding":{"x":{"field":"a","type":"quantitative","axis":null,"scale":{"domain":[-0.41,337.75],"nice":false,"zero":false}},"x2":{"field":"b"},"y":{"field":"y","type":"quantitative","axis":null,"scale":{"domain":[0,20],"range":[0,20],"nice":false,"zero":false}}}},
{"data":{"name":"months"},"transform":[{"filter":"datum.m === 1"}],"mark":{"type":"rule","color":"#c00000","strokeWidth":1.2,"y":0.5,"y2":16.5},"encoding":{"x":{"field":"i","type":"quantitative","axis":null}}},
{"data":{"name":"weeks"},"mark":{"type":"rule","color":"#c00000","strokeWidth":1,"y":0.5,"y2":3},"encoding":{"x":{"field":"i","type":"quantitative","axis":null}}},
{"data":{"name":"months"},"mark":{"type":"text","align":"left","baseline":"middle","fontSize":13,"font":"Liberation Sans","color":"#ff3232","dx":2,"y":9},"encoding":{"x":{"field":"i","type":"quantitative","axis":null},"text":{"field":"t"}}},
{"data":{"values":[{"a":308.1,"b":357,"y":-30,"y2":21}]},"mark":{"type":"rect","color":"#000000"},"encoding":{"x":{"field":"a","type":"quantitative","axis":null},"x2":{"field":"b"},"y":{"field":"y","type":"quantitative","axis":null},"y2":{"field":"y2"}}},
{"data":{"values":[{"i":330.7,"y":-12,"t":"乐淘公式网"}]},"mark":{"type":"text","fontSize":20.5,"fontWeight":"bold","font":"Noto Sans CJK SC","color":"#ffffff"},"encoding":{"x":{"field":"i","type":"quantitative","axis":null},"y":{"field":"y","type":"quantitative","axis":null},"text":{"field":"t"}}},
{"data":{"values":[{"i":329.7,"y":9.5,"t":"www.60lt.com"}]},"mark":{"type":"text","fontSize":15,"fontWeight":"bold","font":"Liberation Serif","color":"#ffffff"},"encoding":{"x":{"field":"i","type":"quantitative","axis":null},"y":{"field":"y","type":"quantitative","axis":null},"text":{"field":"t"}}}
]}
]
}
